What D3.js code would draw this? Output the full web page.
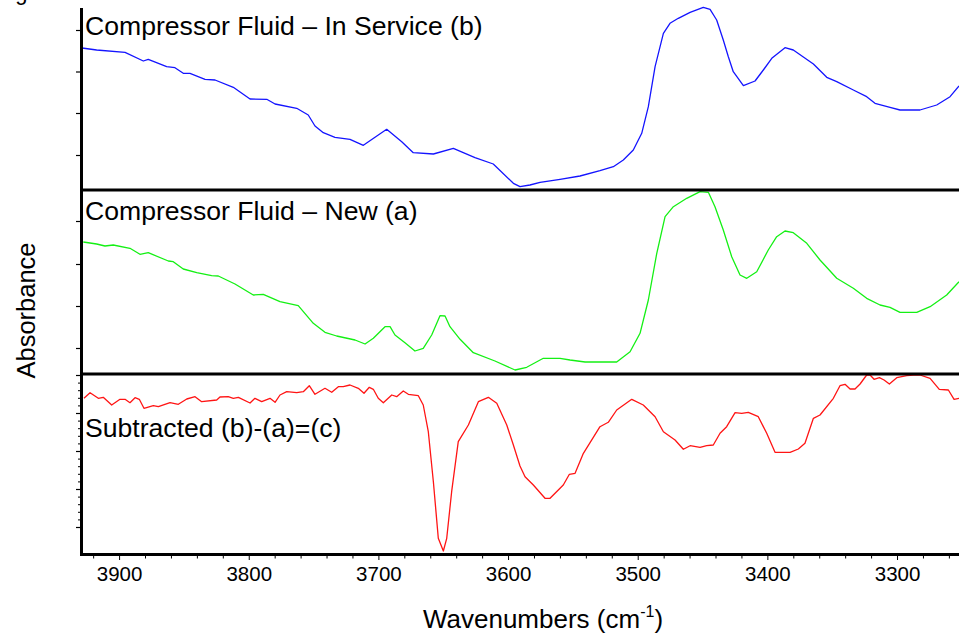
<!DOCTYPE html>
<html>
<head>
<meta charset="utf-8">
<script src="https://cdn.jsdelivr.net/npm/d3@7"></script>
<style>
  html, body { margin: 0; padding: 0; background: #fff; }
  svg { display: block; font-family: Arial, "Liberation Sans", sans-serif; }
</style>
</head>
<body>
<svg id="chart" width="959" height="636"></svg>
<script>
// spectrum (b) - compressor fluid in service
const waveInService = [3928.6, 3917.3, 3895.4, 3881.3, 3877.5, 3863.3, 3856.9, 3850.5, 3845.3, 3833.7, 3826, 3811.9, 3799, 3786.1, 3779.7, 3763, 3754.1, 3748.9, 3742.5, 3733.5, 3721.9, 3711.6, 3693.6, 3682, 3673.1, 3657.6, 3642.2, 3625.5, 3611.4, 3595.9, 3590.8, 3583.1, 3575.3, 3559.9, 3544.5, 3529.1, 3518.8, 3511.1, 3503.4, 3496.9, 3491.8, 3486.6, 3480.2, 3475.1, 3468.7, 3459.6, 3449.4, 3444.2, 3439.1, 3434, 3430.1, 3426.3, 3418.5, 3409.5, 3403.1, 3396.6, 3386.4, 3380, 3364.5, 3354.2, 3346.5, 3333.7, 3323.4, 3317, 3305.4, 3297.7, 3282.3, 3269.4, 3259.1, 3252.2]
const absInService = [1.41, 1.39, 1.367, 1.28, 1.297, 1.223, 1.213, 1.157, 1.157, 1.097, 1.09, 1.017, 0.9, 0.897, 0.85, 0.807, 0.74, 0.63, 0.563, 0.517, 0.497, 0.437, 0.597, 0.473, 0.363, 0.35, 0.407, 0.313, 0.25, 0.057, 0.023, 0.04, 0.067, 0.097, 0.13, 0.183, 0.223, 0.29, 0.39, 0.557, 0.823, 1.223, 1.557, 1.657, 1.707, 1.767, 1.817, 1.797, 1.69, 1.49, 1.323, 1.173, 1.033, 1.08, 1.19, 1.307, 1.413, 1.39, 1.25, 1.117, 1.073, 0.99, 0.923, 0.857, 0.817, 0.79, 0.79, 0.84, 0.923, 1.03]

// spectrum (a) - new compressor fluid
const waveNew = [3927.6, 3917.3, 3910.9, 3904.5, 3891.6, 3883.9, 3877.5, 3862, 3858.2, 3850.5, 3840.1, 3828.6, 3823.5, 3810.6, 3796.5, 3788.8, 3775.9, 3761.8, 3750.2, 3741.2, 3732.2, 3718, 3710.3, 3703.9, 3694.9, 3691, 3687.2, 3679.5, 3671.8, 3665.4, 3658.9, 3652.5, 3648.6, 3644.8, 3637, 3626.8, 3610.1, 3594.6, 3585.6, 3572.8, 3559.9, 3552.2, 3540.6, 3516.2, 3505.9, 3498.2, 3491.8, 3485.3, 3478.9, 3472.5, 3462.2, 3451.9, 3445.5, 3440.4, 3434, 3427.5, 3421.1, 3415.9, 3408.2, 3399.3, 3392.8, 3386.4, 3380, 3369.6, 3359.4, 3346.5, 3333.7, 3323.4, 3313.1, 3305.4, 3297.7, 3284.8, 3274.5, 3261.7, 3252.2]
const absNew = [1.31, 1.29, 1.27, 1.28, 1.247, 1.187, 1.203, 1.12, 1.113, 1.04, 1.003, 0.973, 0.97, 0.89, 0.78, 0.787, 0.713, 0.673, 0.497, 0.407, 0.37, 0.33, 0.29, 0.347, 0.463, 0.463, 0.38, 0.303, 0.22, 0.247, 0.38, 0.573, 0.57, 0.463, 0.337, 0.203, 0.12, 0.03, 0.057, 0.147, 0.147, 0.13, 0.11, 0.11, 0.213, 0.397, 0.73, 1.197, 1.563, 1.663, 1.747, 1.813, 1.807, 1.663, 1.43, 1.163, 0.98, 0.947, 1.013, 1.23, 1.363, 1.42, 1.403, 1.297, 1.13, 0.947, 0.847, 0.747, 0.68, 0.657, 0.607, 0.607, 0.663, 0.78, 0.913]

// (c) = (b) - (a)
const waveSub = [3927.1, 3922.4, 3916, 3912.2, 3905.7, 3899.3, 3895.4, 3891.6, 3887.7, 3884.4, 3880.8, 3873.6, 3869.7, 3860.7, 3854.3, 3847.8, 3841.4, 3836.3, 3824.7, 3822.2, 3815.8, 3811.9, 3808, 3799, 3795.2, 3790, 3783.6, 3779.7, 3775.9, 3770.7, 3763, 3757.9, 3753.3, 3748.9, 3741.2, 3736, 3730.9, 3727.1, 3721.9, 3715.5, 3711.1, 3707, 3703.9, 3700.1, 3696.2, 3689.7, 3685.9, 3680.8, 3676.9, 3669.2, 3665.4, 3661.5, 3657.6, 3653.8, 3649.9, 3647.3, 3643.5, 3638.4, 3630.6, 3622.9, 3615.2, 3608.7, 3601, 3595.9, 3590.8, 3586.9, 3580.5, 3571.5, 3567.6, 3557.4, 3552.7, 3548.3, 3541.9, 3529.1, 3522.7, 3516.2, 3504.6, 3495.7, 3486.6, 3480.2, 3471.2, 3464.8, 3459.6, 3451.9, 3446.8, 3441.7, 3436.5, 3431.4, 3424.9, 3419.8, 3414.7, 3407, 3400.5, 3394.1, 3382.5, 3376.1, 3371, 3364.5, 3359.4, 3349.1, 3344, 3340.1, 3336.2, 3332.4, 3328.5, 3323.4, 3320.8, 3317.7, 3313.6, 3310, 3305.9, 3300.2, 3292.5, 3287.4, 3282.3, 3274.5, 3267.4, 3260.4, 3256, 3252.2]
const absSub = [0.017, 0.073, 0.017, 0.027, -0.05, 0.007, 0.007, -0.027, 0.023, 0.007, -0.083, -0.057, -0.067, -0.027, -0.043, 0.01, 0.033, -0.017, 0, 0.03, 0.033, 0.017, 0.027, -0.03, 0.017, -0.017, 0.017, -0.023, 0.05, 0.083, 0.073, 0.083, 0.143, 0.057, 0.117, 0.077, 0.133, 0.133, 0.15, 0.117, 0.067, 0.127, 0.107, 0.017, -0.027, 0.05, 0.033, 0.09, 0.057, 0.043, -0.05, -0.317, -0.817, -1.383, -1.51, -1.383, -0.917, -0.417, -0.25, -0.017, 0.027, -0.033, -0.25, -0.45, -0.66, -0.767, -0.85, -0.983, -0.983, -0.85, -0.743, -0.733, -0.533, -0.267, -0.223, -0.1, 0.007, -0.05, -0.167, -0.317, -0.4, -0.493, -0.457, -0.473, -0.457, -0.45, -0.333, -0.267, -0.127, -0.133, -0.123, -0.167, -0.333, -0.523, -0.523, -0.49, -0.433, -0.183, -0.15, 0.017, 0.143, 0.157, 0.11, 0.11, 0.16, 0.25, 0.25, 0.207, 0.223, 0.2, 0.16, 0.223, 0.243, 0.25, 0.25, 0.217, 0.107, 0.1, 0.007, 0.017]

const panelLabels = ["Compressor Fluid \u2013 In Service (b)", "Compressor Fluid \u2013 New (a)", "Subtracted (b)-(a)=(c)"]
const xTickValues = [3900, 3800, 3700, 3600, 3500, 3400, 3300]
const topTicks = [0.34, 0.76, 1.175, 1.59]
const midTicks = [0.25, 0.67, 1.09, 1.52]
const subTicks = [0.25, -0.13, -0.51, -0.89, -1.27]

const svg = d3.select("#chart")
const axisX = 81.5
const right = 959

// wavenumbers run from high to low
const x = d3.scaleLinear().domain([3928.6, 3252.2]).range([82, right])

const panels = [
  {label: panelLabels[0], wave: waveInService, abs: absInService, color: "#1414ff", domain: [0, 1.8], range: [189, 9], ticks: topTicks, labelY: 34.5},
  {label: panelLabels[1], wave: waveNew, abs: absNew, color: "#14f014", domain: [0, 1.83], range: [373, 190], ticks: midTicks, labelY: 219.5},
  {label: panelLabels[2], wave: waveSub, abs: absSub, color: "#ff1414", domain: [-1.54, 0.26], range: [554, 374], ticks: subTicks, labelY: 436.5, minor: true}
]

panels.forEach((p, i) => {
  const y = d3.scaleLinear().domain(p.domain).range(p.range)
  const g = svg.append("g")

  g.append("clipPath").attr("id", "clip" + i)
    .append("rect")
    .attr("x", axisX).attr("y", p.range[1] - 4)
    .attr("width", right - axisX).attr("height", p.range[0] - p.range[1] + 4)

  // left ticks, no labels
  const yAxis = d3.axisLeft(y).tickValues(p.ticks).tickSize(4).tickFormat("").tickSizeOuter(0)
  g.append("g").attr("transform", `translate(${axisX - 1.5},0)`).call(yAxis)
    .call(a => a.select(".domain").remove())
    .selectAll("line").attr("stroke", "#000").attr("stroke-width", 1.2)

  if (p.minor) {
    const minor = []
    for (let k = 0; k < p.ticks.length - 1; k++) {
      const step = (p.ticks[k + 1] - p.ticks[k]) / 5
      for (let j = 1; j < 5; j++) minor.push(p.ticks[k] + j * step)
    }
    g.append("g").attr("transform", `translate(${axisX - 1.5},0)`)
      .call(d3.axisLeft(y).tickValues(minor).tickSize(2).tickFormat("").tickSizeOuter(0))
      .call(a => a.select(".domain").remove())
      .selectAll("line").attr("stroke", "#000").attr("stroke-width", 1)
  }

  const line = d3.line()
    .x((d, k) => x(p.wave[k]))
    .y(d => y(d))

  g.append("path")
    .datum(p.abs)
    .attr("clip-path", `url(#clip${i})`)
    .attr("fill", "none")
    .attr("stroke", p.color)
    .attr("stroke-width", 1.3)
    .attr("stroke-linejoin", "round")
    .attr("d", line)

  g.append("text")
    .attr("x", 85)
    .attr("y", p.labelY)
    .attr("font-size", 26.6)
    .attr("fill", "#000")
    .text(p.label)
})

// panel dividers
svg.selectAll(".divider")
  .data([190, 374])
  .enter().append("line")
  .attr("class", "divider")
  .attr("x1", axisX).attr("x2", right)
  .attr("y1", d => d).attr("y2", d => d)
  .attr("stroke", "#000").attr("stroke-width", 3)

// left axis line
svg.append("line")
  .attr("x1", axisX).attr("x2", axisX)
  .attr("y1", 8).attr("y2", 556)
  .attr("stroke", "#000").attr("stroke-width", 3)

// bottom axis
const minorX = d3.range(3920, 3250, -20).filter(v => v % 100 !== 0)
const xg = svg.append("g").attr("transform", "translate(0,554.5)")
xg.append("line")
  .attr("x1", axisX - 1.5).attr("x2", right)
  .attr("stroke", "#000").attr("stroke-width", 3)
xg.append("g").attr("transform", "translate(0,1.5)")
  .call(d3.axisBottom(x).tickValues(minorX).tickSize(2.5).tickFormat("").tickSizeOuter(0))
  .call(a => a.select(".domain").remove())
  .selectAll("line").attr("stroke", "#000").attr("stroke-width", 1)
xg.append("g").attr("transform", "translate(0,1.5)")
  .call(d3.axisBottom(x).tickValues(xTickValues).tickSize(4).tickFormat(d3.format("d")).tickSizeOuter(0))
  .call(a => a.select(".domain").remove())
  .call(a => a.selectAll("line").attr("stroke", "#000").attr("stroke-width", 1))
  .call(a => a.selectAll("text")
    .attr("font-size", 20.5)
    .attr("font-family", "Arial, 'Liberation Sans', sans-serif")
    .attr("fill", "#000")
    .attr("dy", 0).attr("y", 25))

// axis titles
const xTitle = svg.append("text")
  .attr("x", 543).attr("y", 628)
  .attr("text-anchor", "middle")
  .attr("font-size", 26)
xTitle.append("tspan").text("Wavenumbers (cm")
xTitle.append("tspan").attr("font-size", 16).attr("dy", -11).text("-1")
xTitle.append("tspan").attr("dy", 11).text(")")

svg.append("text")
  .attr("transform", "translate(35,310.5) rotate(-90)")
  .attr("text-anchor", "middle")
  .attr("font-size", 25.5)
  .text("Absorbance")

// caption above, cut off by the page edge
svg.append("text")
  .attr("x", -3).attr("y", 0)
  .attr("font-size", 22)
  .text("Figure")
</script>
</body>
</html>
